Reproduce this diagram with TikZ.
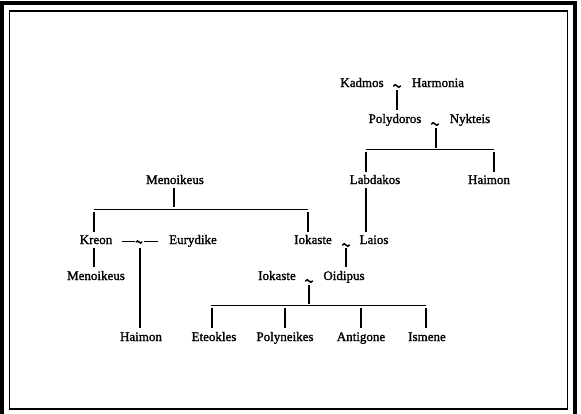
\documentclass[tikz,border=0pt]{standalone}
\usepackage{fontspec}
\newfontfamily\gfont[FakeBold=1.4]{Liberation Serif}
\begin{document}
\begin{tikzpicture}[x=1pt,y=-1pt,
  nm/.style={font=\gfont\fontsize{13}{15}\selectfont, inner sep=0pt, anchor=base, text=black},
  ln/.style={line width=1.3pt, black},
  hl/.style={line width=1pt, black},
  tld/.pic={\draw[line width=1.5pt, line cap=round] (-3.5,0) sin (-1.75,-1.3) cos (0,0) sin (1.75,1.3) cos (3.5,0);}]
\useasboundingbox (0,0) rectangle (581,413);
\fill[white] (0,0) rectangle (581,413);
\draw[line width=4pt] (1.5,2.5) rectangle (575,416);
\draw[line width=1.5pt] (9.5,11) rectangle (567.5,409);

% top family
\node[nm] (kad) at (362,87) {Kadmos};
\coordinate (t1) at (397,86);
\pic at (t1) {tld};
\node[nm] (har) at (438,87) {Harmonia};
\coordinate (c1) at (397,90);
\coordinate (c1b) at (397,110);
\draw[ln] (c1) -- (c1b);
\node[nm] (pol) at (395,123) {Polydoros};
\coordinate (t2) at (435,124);
\pic at (t2) {tld};
\node[nm] (nyk) at (470,123) {Nykteis};
\coordinate (c2) at (436,128);
\coordinate (h1) at (436,148);
\draw[ln] (c2) -- (h1);
\coordinate (h1l) at (366,149);
\coordinate (h1r) at (494,149);
\draw[hl] (h1l) -- (h1r);
\node[nm] (lab) at (375,184) {Labdakos};
\node[nm] (hai1) at (489,184) {Haimon};
\coordinate (l1a) at (366,152); \coordinate (l1b) at (366,172);
\coordinate (l2a) at (494,152); \coordinate (l2b) at (494,172);
\draw[ln] (l1a) -- (l1b);
\draw[ln] (l2a) -- (l2b);

% Menoikeus family
\node[nm] (men) at (175,184) {Menoikeus};
\coordinate (m1a) at (174,188); \coordinate (m1b) at (174,207);
\draw[ln] (m1a) -- (m1b);
\coordinate (h2l) at (94,209); \coordinate (h2r) at (308,209);
\draw[hl] (h2l) -- (h2r);
\coordinate (k1a) at (94,212); \coordinate (k1b) at (94,232);
\coordinate (k2a) at (308,212); \coordinate (k2b) at (308,232);
\draw[ln] (k1a) -- (k1b);
\draw[ln] (k2a) -- (k2b);

\node[nm] (kre) at (96,244) {Kreon};
\coordinate (t3) at (139,242);
\pic[scale=0.8] at (t3) {tld};
\coordinate (d1a) at (122,241); \coordinate (d1b) at (134.5,241);
\coordinate (d2a) at (143.5,241); \coordinate (d2b) at (158,241);
\draw[hl] (d1a) -- (d1b);
\draw[hl] (d2a) -- (d2b);
\node[nm] (eur) at (193,244) {Eurydike};
\node[nm] (iok1) at (313,244) {Iokaste};
\coordinate (t4) at (346,245);
\pic at (t4) {tld};
\node[nm] (lai) at (374,244) {Laios};
\coordinate (lb1) at (366,188); \coordinate (lb2) at (366,232);
\draw[ln] (lb1) -- (lb2);

\coordinate (k3a) at (94,248); \coordinate (k3b) at (94,267);
\draw[ln] (k3a) -- (k3b);
\node[nm] (men2) at (96,280) {Menoikeus};
\coordinate (hm1) at (140,248); \coordinate (hm2) at (140,328);
\draw[ln] (hm1) -- (hm2);
\node[nm] (hai2) at (141,341) {Haimon};

\coordinate (il1) at (346,248); \coordinate (il2) at (346,267);
\draw[ln] (il1) -- (il2);
\node[nm] (iok2) at (277,280) {Iokaste};
\coordinate (t5) at (309,281);
\pic at (t5) {tld};
\node[nm] (oid) at (344,280) {Oidipus};
\coordinate (o1) at (309,285); \coordinate (o2) at (309,304);
\draw[ln] (o1) -- (o2);
\coordinate (h3l) at (211,305.5); \coordinate (h3r) at (426,305.5);
\draw[hl] (h3l) -- (h3r);
\foreach \xx/\nn in {212/a,285/b,361/c,426/d}{
  \coordinate (ca\nn) at (\xx,308); \coordinate (cb\nn) at (\xx,328);
  \draw[ln] (ca\nn) -- (cb\nn);
}
\node[nm] (ete) at (214,341) {Eteokles};
\node[nm] (pln) at (285,341) {Polyneikes};
\node[nm] (ant) at (361,341) {Antigone};
\node[nm] (ism) at (427,341) {Ismene};
\end{tikzpicture}
\end{document}
